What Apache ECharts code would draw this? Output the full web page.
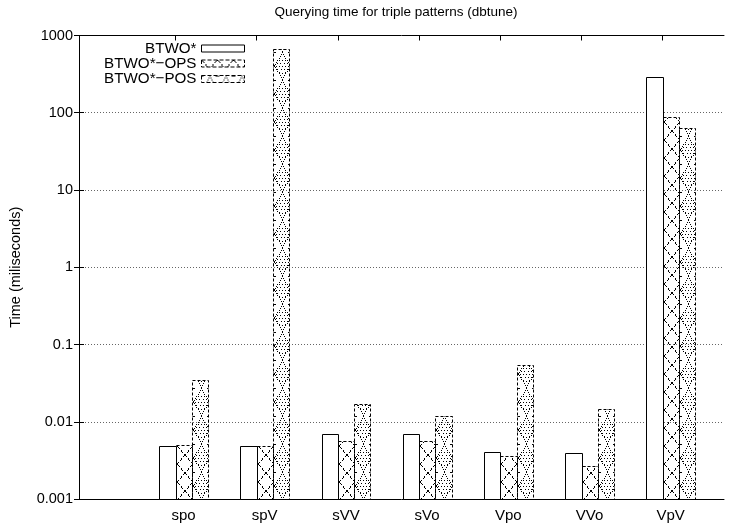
<!DOCTYPE html>
<html>
<head>
<meta charset="utf-8">
<script src="https://cdn.jsdelivr.net/npm/echarts@6/dist/echarts.min.js"></script>
<style>
  html, body { margin: 0; padding: 0; background: #fff; }
  #chart { width: 739px; height: 525px; }
</style>
</head>
<body>
<div id="chart"></div>
<script>
// Triple pattern categories and query times (milliseconds)
const categories = ['spo', 'spV', 'sVV', 'sVo', 'Vpo', 'VVo', 'VpV'];
const btwo    = [0.0049, 0.0049, 0.0069, 0.0069, 0.0041, 0.0039, 290];
const btwoOps = [0.0050, 0.0049, 0.0057, 0.0057, 0.0036, 0.0027, 87];
const btwoPos = [0.035, 660, 0.017, 0.012, 0.055, 0.0146, 64];
const seriesNames = ['BTWO*', 'BTWO*\u2212OPS', 'BTWO*\u2212POS'];
const yTickLabels = ['0.001', '0.01', '0.1', '1', '10', '100', '1000'];

const FONT = '"Liberation Sans", Arial, Helvetica, sans-serif';
const FS = 14.5;
const Y_MIN = 0.001, Y_MAX = 1000;
const BAR_FRAC = 0.2;             // bar width as a fraction of a category band
const OFFSETS = [-1, 0, 1];       // bar slot relative to the category tick

// Pixel-drawn fill tiles so the hatching stays crisp and black
function dot(g, x, y, w) { g.fillRect(Math.round(x), Math.round(y), w || 1, 1); }
function crossTile() {
  const w = 16, h = 18;
  const c = document.createElement('canvas');
  c.width = w; c.height = h;
  const g = c.getContext('2d');
  g.fillStyle = '#000';
  for (let t = 0; t < h; t++) {
    if (t % 4 === 3) continue;
    const x = t * (w - 1) / (h - 1);
    dot(g, x, t);
    dot(g, w - 1 - x, t);
  }
  return c;
}
function circleTile() {
  const w = 16, h = 28;
  const c = document.createElement('canvas');
  c.width = w; c.height = h;
  const g = c.getContext('2d');
  g.fillStyle = '#000';
  // dotted diamond enclosing each motif
  for (let t = 0; t <= 14; t += 2) {
    const x = t * 8 / 14;
    dot(g, 8 + x, t); dot(g, 8 - x, t);
    dot(g, 8 + x, 27 - t); dot(g, 8 - x, 27 - t);
  }
  // outer and inner dotted rings around a centre dot
  for (let a = 0; a < 360; a += 30) {
    const r = a * Math.PI / 180;
    dot(g, 8 + 6 * Math.cos(r), 14 + 6.5 * Math.sin(r));
  }
  for (let a = 0; a < 360; a += 60) {
    const r = a * Math.PI / 180;
    dot(g, 8 + 3 * Math.cos(r), 14 + 3 * Math.sin(r));
  }
  dot(g, 8, 14);
  dot(g, 0, 0, 2); dot(g, 14, 0, 2);
  return c;
}
const tiles = [null, crossTile(), circleTile()];

function fillFor(k, ox, oy) {
  if (k === 0) return '#fff';
  return { image: tiles[k], repeat: 'repeat', x: ox, y: oy };
}

function barRenderer(k) {
  return function (params, api) {
    const idx = api.value(0), v = api.value(1);
    const band = api.size([1, 0])[0];
    const w = band * BAR_FRAC;
    const top = api.coord([idx, v]);
    const base = api.coord([idx, Y_MIN]);
    // the category tick sits on the left edge of the middle bar
    const left = base[0] + OFFSETS[k] * w;
    const x0 = Math.round(left) + 0.5, x1 = Math.round(left + w) + 0.5;
    const y0 = Math.round(top[1]) + 0.5, y1 = Math.round(base[1]) + 0.5;
    const style = { fill: fillFor(k, x0 + 0.5, y1 + 0.5), stroke: '#000', lineWidth: 1 };
    if (k > 0) style.lineDash = [3, 2];
    return {
      type: 'rect',
      shape: { x: x0, y: y0, width: x1 - x0, height: y1 - y0 },
      style: style
    };
  };
}

const valueSets = [btwo, btwoOps, btwoPos];
const series = valueSets.map(function (vals, k) {
  return {
    type: 'custom',
    name: seriesNames[k],
    xAxisIndex: 2, yAxisIndex: 2,
    renderItem: barRenderer(k),
    clip: false,
    encode: { x: 0, y: 1 },
    data: categories.map(function (c, i) { return [i, vals[i]]; }),
    z: 3
  };
});

const legendRows = [49, 64, 79.5];
const legends = seriesNames.map(function (name, k) {
  return {
    data: [{
      name: name,
      icon: 'rect',
      itemStyle: {
        color: k === 0 ? '#fff' : { image: tiles[k], repeat: 'repeat' },
        borderColor: '#000',
        borderWidth: 1,
        borderType: k === 0 ? 'solid' : 'dashed'
      }
    }],
    selectedMode: false,
    orient: 'horizontal',
    align: 'right',
    right: 494,
    top: legendRows[k] - 8,
    padding: 0,
    itemWidth: 43,
    itemHeight: 7,
    itemGap: 6,
    textStyle: { fontFamily: FONT, fontSize: 15.2, color: '#000' }
  };
});

// Grid 0 is the plot frame; grid 1 holds the category bands (one band per cluster)
const FRAME = { left: 68, right: 15, top: 35.5, bottom: 26 };
const BAND = 81.2, FIRST_TICK = 175.5;
const catLeft = FIRST_TICK - BAND / 2;
const catRight = 739 - (FIRST_TICK + (categories.length - 0.5) * BAND);

const lineStyle = { color: '#000', width: 1 };
const chart = echarts.init(document.getElementById('chart'), null, { renderer: 'canvas' });
chart.setOption({
  animation: false,
  backgroundColor: '#fff',
  title: {
    text: 'Querying time for triple patterns (dbtune)',
    left: 391, top: 0,
    textAlign: 'center',
    textStyle: { fontFamily: FONT, fontSize: 13.5, fontWeight: 'normal', color: '#000' }
  },
  legend: legends,
  grid: [
    { left: FRAME.left, right: FRAME.right, top: FRAME.top, bottom: FRAME.bottom },
    { left: catLeft, right: catRight, top: FRAME.top, bottom: FRAME.bottom }
  ],
  xAxis: [
    { gridIndex: 0, type: 'value', min: 0, max: 1, position: 'bottom',
      axisLine: { show: true, onZero: false, lineStyle: lineStyle },
      axisTick: { show: false }, axisLabel: { show: false }, splitLine: { show: false } },
    { gridIndex: 0, type: 'value', min: 0, max: 1, position: 'top',
      axisLine: { show: true, onZero: false, lineStyle: lineStyle },
      axisTick: { show: false }, axisLabel: { show: false }, splitLine: { show: false } },
    { gridIndex: 1, type: 'category', data: categories, position: 'bottom',
      axisLine: { show: false }, axisTick: { show: false },
      axisLabel: { fontFamily: FONT, fontSize: 15, color: '#000', margin: 9,
                   padding: [0, 0, 0, 16] } },
    { gridIndex: 1, type: 'category', data: categories, position: 'top',
      axisLine: { show: false },
      axisTick: { show: true, inside: true, alignWithLabel: true, length: 5, lineStyle: lineStyle },
      axisLabel: { show: false } }
  ],
  yAxis: [
    { gridIndex: 0, type: 'log', logBase: 10, min: Y_MIN, max: Y_MAX, interval: 1,
      position: 'left',
      name: 'Time (miliseconds)',
      nameLocation: 'middle', nameRotate: 90, nameGap: 56,
      nameTextStyle: { fontFamily: FONT, fontSize: FS, color: '#000' },
      axisLine: { show: true, lineStyle: lineStyle },
      axisTick: { show: true, inside: true, length: 5, lineStyle: lineStyle },
      axisLabel: {
        fontFamily: FONT, fontSize: FS, color: '#000', margin: 6,
        formatter: function (v) { return yTickLabels[Math.round(Math.log10(v)) + 3]; }
      },
      splitLine: { show: true, lineStyle: { color: '#666', type: [1, 2], width: 1 } } },
    { gridIndex: 0, type: 'log', logBase: 10, min: Y_MIN, max: Y_MAX, interval: 1,
      position: 'right',
      axisLine: { show: true, lineStyle: lineStyle },
      axisTick: { show: true, inside: true, length: 5, lineStyle: lineStyle },
      axisLabel: { show: false }, splitLine: { show: false } },
    { gridIndex: 1, type: 'log', logBase: 10, min: Y_MIN, max: Y_MAX, show: false }
  ],
  series: series
});
</script>
</body>
</html>
